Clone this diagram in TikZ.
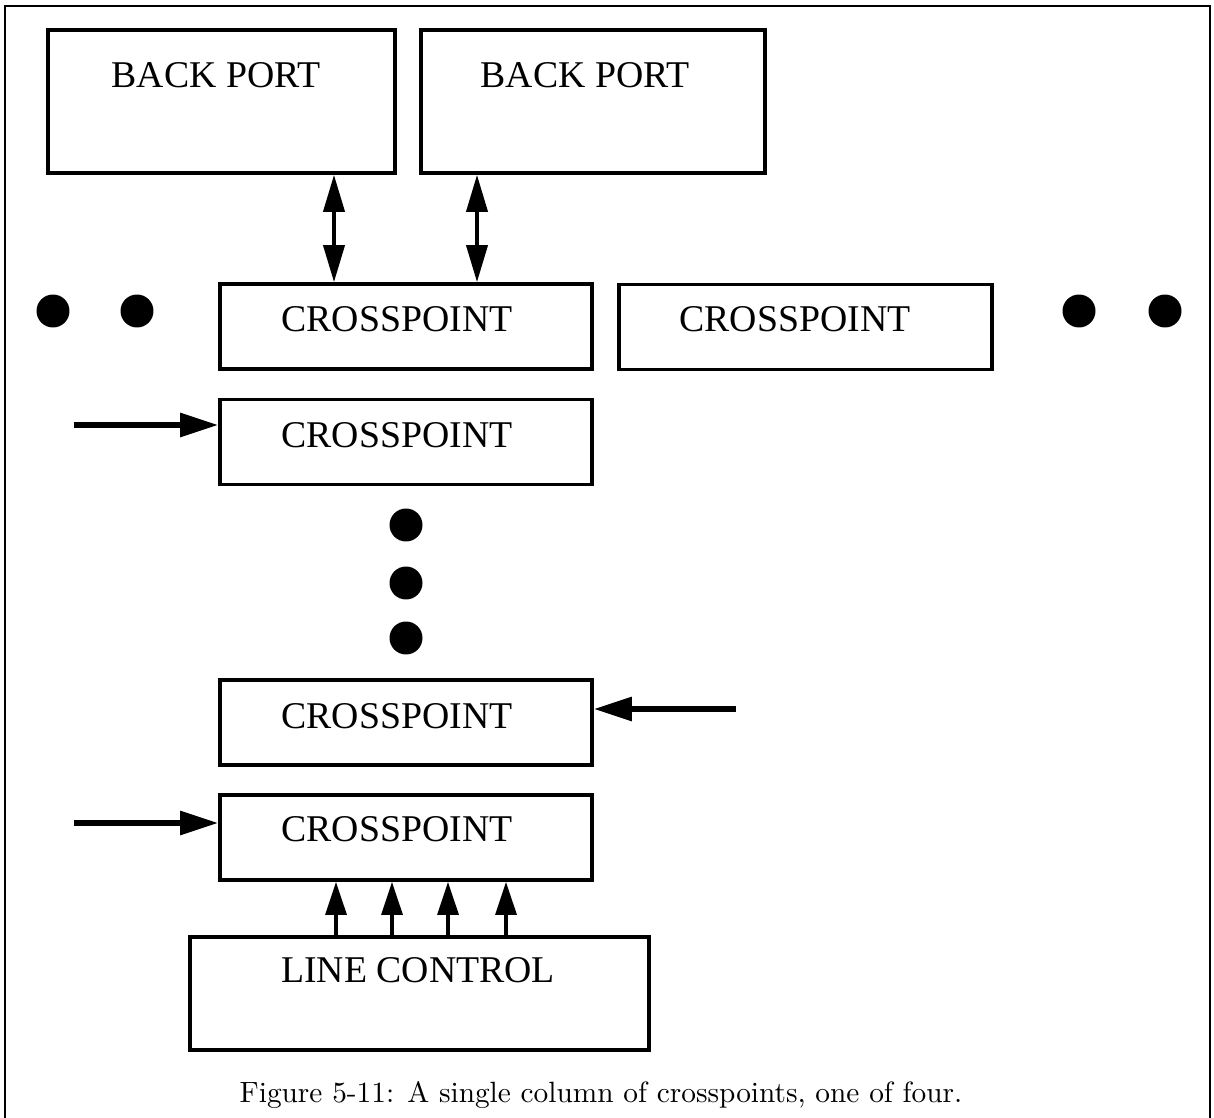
\documentclass[tikz,border=0pt]{standalone}
\usepackage{fontspec}
\newfontfamily\boxfont{Liberation Serif}
\newfontfamily\capfont{lmroman10-regular}[Extension=.otf]
\usetikzlibrary{arrows.meta}

\begin{document}
\begin{tikzpicture}[x=0.02cm, y=-0.02cm,
    unit/.style={draw, line width=2.1pt, minimum height=1.7cm, minimum width=7.44cm, inner sep=0pt},
    lbl/.style={inner sep=0pt, font=\boxfont\fontsize{21.5}{24}\selectfont},
    feed/.style={line width=3.2pt, -{Triangle[length=0.76cm,width=0.46cm]}},
    bus/.style={line width=2.2pt, {Triangle[length=0.74cm,width=0.42cm]}-{Triangle[length=0.74cm,width=0.42cm]}},
    ctl/.style={line width=1.8pt, -{Triangle[length=0.66cm,width=0.42cm]}},
    dot/.style={circle, fill, inner sep=0pt, minimum size=0.66cm}
  ]
  \useasboundingbox (0,0) rectangle (1214,1118);
  % frame, open at the bottom
  \draw[line width=1.2pt] (5,1118) -- (5,6) -- (1210,6) -- (1210,1118);

  % back ports
  \node[unit, minimum width=6.94cm, minimum height=2.86cm] (bp1) at (221.5,101.5) {};
  \node[unit, minimum width=6.88cm, minimum height=2.86cm] (bp2) at (593,101.5) {};
  \node[lbl] (bp1t) at (216,75) {BACK PORT};
  \node[lbl] (bp2t) at (585,75) {BACK PORT};

  % crosspoints
  \node[unit] (cp1) at (406,326.5) {};
  \node[unit, minimum width=7.46cm] (cpr) at (805.5,327) {};
  \node[unit] (cp2) at (406,442) {};
  \node[unit] (cp3) at (406,722.5) {};
  \node[unit] (cp4) at (406,837.5) {};
  \node[lbl] (cp1t) at (397,319) {CROSSPOINT};
  \node[lbl] (cprt) at (795,319) {CROSSPOINT};
  \node[lbl] (cp2t) at (397,435) {CROSSPOINT};
  \node[lbl] (cp3t) at (397,716) {CROSSPOINT};
  \node[lbl] (cp4t) at (397,829) {CROSSPOINT};

  % line control
  \node[unit, minimum width=9.18cm, minimum height=2.26cm] (lc) at (419.5,993.5) {};
  \node[lbl] (lct) at (418,970) {LINE CONTROL};

  % ellipsis dots
  \foreach \x in {53,137,1079,1165}
    \node[dot] at (\x,311) {};
  \foreach \y in {525,583,638}
    \node[dot] at (406,\y) {};

  % inputs
  \coordinate (in2) at (74,425);
  \coordinate (in3) at (736,709);
  \coordinate (in4) at (74,823);

  \path[bus]
  (bp1.south -| 334,0) edge (cp1.north -| 334,0)
  (bp2.south -| 477,0) edge (cp1.north -| 477,0)
  ;
  \path[feed]
  (in2) edge (cp2.west |- in2)
  (in3) edge (cp3.east |- in3)
  (in4) edge (cp4.west |- in4)
  ;
  \foreach \x in {336,392,448,506}
    \draw[ctl] (lc.north -| \x,0) -- (cp4.south -| \x,0);

  \node[anchor=base, inner sep=0pt, font=\capfont\fontsize{16.7}{19}\selectfont] (cap) at (601,1102)
    {Figure 5-11: A single column of crosspoints, one of four.};
\end{tikzpicture}
\end{document}
